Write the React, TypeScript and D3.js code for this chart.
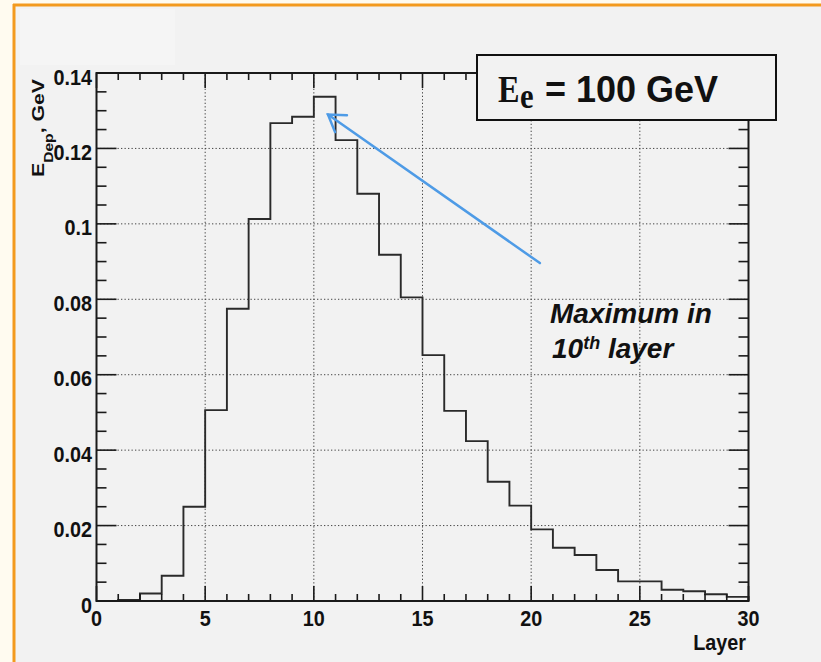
import React from "react";
import * as d3 from "d3";

// Layer index (lower bin edge) and mean energy deposited per layer, GeV
const layers = [0, 1, 2, 3, 4, 5, 6, 7, 8, 9, 10, 11, 12, 13, 14, 15, 16, 17, 18, 19, 20, 21, 22, 23, 24, 25, 26, 27, 28, 29];
const energyDeposit = [
  0, 0.0003, 0.002, 0.0067, 0.025, 0.0506, 0.0775, 0.1013, 0.1267, 0.1284,
  0.1337, 0.1222, 0.108, 0.0918, 0.0805, 0.0652, 0.0504, 0.0424, 0.0316, 0.0253,
  0.019, 0.0141, 0.0122, 0.0082, 0.0052, 0.0052, 0.003, 0.0026, 0.0018, 0.0011,
];

const xTickValues = [0, 5, 10, 15, 20, 25, 30];
const xTickLabels = ["0", "5", "10", "15", "20", "25", "30"];
const yTickValues = [0, 0.02, 0.04, 0.06, 0.08, 0.1, 0.12, 0.14];
const yTickLabels = ["0", "0.02", "0.04", "0.06", "0.08", "0.1", "0.12", "0.14"];

// Annotation arrow: from tail (layer, GeV) to head (layer, GeV)
const arrowTail = [20.4, 0.0896];
const arrowHead = [10.65, 0.129];

const W = 821;
const H = 662;
const SANS = "'Liberation Sans', Arial, Helvetica, sans-serif";
const SERIF = "'Liberation Serif', 'Times New Roman', serif";

export default function App() {
  const x = d3.scaleLinear().domain([0, 30]).range([96.5, 748.5]);
  const y = d3.scaleLinear().domain([0, 0.14]).range([601, 73]);
  const [x0, x1] = x.range();
  const [y0, y1] = y.range();

  // step outline of the histogram
  let histPath = `M${x(layers[0])},${y(0)}`;
  layers.forEach((l, i) => {
    histPath += `V${y(energyDeposit[i])}H${x(l + 1)}`;
  });
  histPath += `V${y(0)}`;

  const xMinor = d3.range(0, 31, 1);
  const yMinor = d3.range(0, 0.1401, 0.005);
  const xGrid = xTickValues.filter((v) => v > 0 && v < 30);
  const yGrid = yTickValues.filter((v) => v > 0 && v < 0.14);

  const isMajorX = (v: number) => xTickValues.some((t) => Math.abs(t - v) < 1e-9);
  const isMajorY = (v: number) => yTickValues.some((t) => Math.abs(t - v) < 1e-9);

  // arrow geometry
  const hx = x(arrowHead[0]);
  const hy = y(arrowHead[1]);
  const tx = x(arrowTail[0]);
  const ty = y(arrowTail[1]);
  const ang = Math.atan2(ty - hy, tx - hx);
  const wing = 19;
  const spread = (33 * Math.PI) / 180;
  const w1 = [hx + wing * Math.cos(ang - spread), hy + wing * Math.sin(ang - spread)];
  const w2 = [hx + wing * Math.cos(ang + spread), hy + wing * Math.sin(ang + spread)];

  const blue = "#4e9be6";
  const ink = "#111";

  // narrow, tall axis lettering
  const label = (key: string, lx: number, ly: number, anchor: string, txt: string) => (
    <g key={key} transform={`translate(${lx},${ly}) scale(0.9,1)`}>
      <text textAnchor={anchor}>{txt}</text>
    </g>
  );

  return (
    <svg
      width={W}
      height={H}
      viewBox={`0 0 ${W} ${H}`}
      style={{ position: "absolute", left: 0, top: 0, display: "block" }}
    >
      {/* page background and frame */}
      <rect x={0} y={0} width={W} height={H} fill="#fffbf0" />
      <rect x={15} y={6} width={W - 15} height={H - 6} fill="#f2f2f2" />
      <rect x={20} y={9} width={155} height={56} fill="#f5f5f5" />
      <line x1={13} x2={W} y1={5} y2={5} stroke="#f39a1e" strokeWidth={3} />
      <line x1={14} x2={14} y1={4} y2={H} stroke="#f39a1e" strokeWidth={3} />

      {/* grid */}
      <g stroke="#444" strokeWidth={1} strokeDasharray="1.3 2.2">
        {xGrid.map((v) => (
          <line key={`gx${v}`} x1={x(v)} x2={x(v)} y1={y0} y2={y1} />
        ))}
        {yGrid.map((v) => (
          <line key={`gy${v}`} x1={x0} x2={x1} y1={y(v)} y2={y(v)} />
        ))}
      </g>

      {/* histogram */}
      <path d={histPath} fill="none" stroke="#2a2a2a" strokeWidth={1.9} />

      {/* frame */}
      <rect x={x0} y={y1} width={x1 - x0} height={y0 - y1} fill="none" stroke="#1a1a1a" strokeWidth={2} />

      {/* ticks */}
      <g stroke="#1a1a1a" strokeWidth={1.6}>
        {xMinor.map((v) => {
          const len = isMajorX(v) ? 15 : 7;
          return (
            <g key={`tx${v}`}>
              <line x1={x(v)} x2={x(v)} y1={y0} y2={y0 - len} />
              <line x1={x(v)} x2={x(v)} y1={y1} y2={y1 + len} />
            </g>
          );
        })}
        {yMinor.map((v) => {
          const len = isMajorY(v) ? 20 : 10;
          return (
            <g key={`ty${v.toFixed(3)}`}>
              <line x1={x0} x2={x0 + len} y1={y(v)} y2={y(v)} />
              <line x1={x1} x2={x1 - len} y1={y(v)} y2={y(v)} />
            </g>
          );
        })}
      </g>

      {/* tick labels */}
      <g fontFamily={SANS} fontWeight="bold" fontSize={22} fill={ink}>
        {yTickValues.map((v, i) => label(`ly${v}`, 92, y(v) + 11.5, "end", yTickLabels[i]))}
        {xTickValues.map((v, i) => label(`lx${v}`, x(v), 626, "middle", xTickLabels[i]))}
        {label("xtitle", 746, 650, "end", "Layer")}
      </g>

      {/* y axis title */}
      <g transform="translate(44,177) rotate(-90) scale(1.25,1)">
        <text fontFamily={SANS} fontWeight="bold" fontSize={17} fill={ink}>
          <tspan>E</tspan>
          <tspan fontSize={12.5} dy={9}>Dep</tspan>
          <tspan dy={-9}>, GeV</tspan>
        </text>
      </g>

      {/* energy box */}
      <rect x={477} y={55} width={299} height={65} fill="#f2f2f2" stroke="#111" strokeWidth={2} />
      <g transform="translate(498,101.5) scale(0.85,1)">
        <text fontFamily={SERIF} fontWeight="bold" fontSize={38} fill={ink}>
          E
        </text>
        <text x={26} y={6.7} fontFamily={SERIF} fontWeight="bold" fontSize={36} fill={ink}>
          e
        </text>
      </g>
      <text x={545} y={101.5} fontFamily={SANS} fontWeight="bold" fontSize={36} fill={ink}>
        = 100 GeV
      </text>

      {/* annotation */}
      <g fontFamily={SANS} fontWeight="bold" fontStyle="italic" fill={ink}>
        <text x={550} y={323.3} fontSize={28}>
          Maximum in
        </text>
        <text x={552} y={358.3} fontSize={28}>
          10
          <tspan fontSize={18} dy={-9}>th</tspan>
          <tspan dy={9}> layer</tspan>
        </text>
      </g>

      {/* arrow to the maximum */}
      <g stroke={blue} strokeWidth={2.5} strokeLinecap="round" fill="none">
        <line x1={tx} y1={ty} x2={hx} y2={hy} />
        <polyline points={`${w1[0]},${w1[1]} ${hx},${hy} ${w2[0]},${w2[1]}`} />
      </g>
    </svg>
  );
}
